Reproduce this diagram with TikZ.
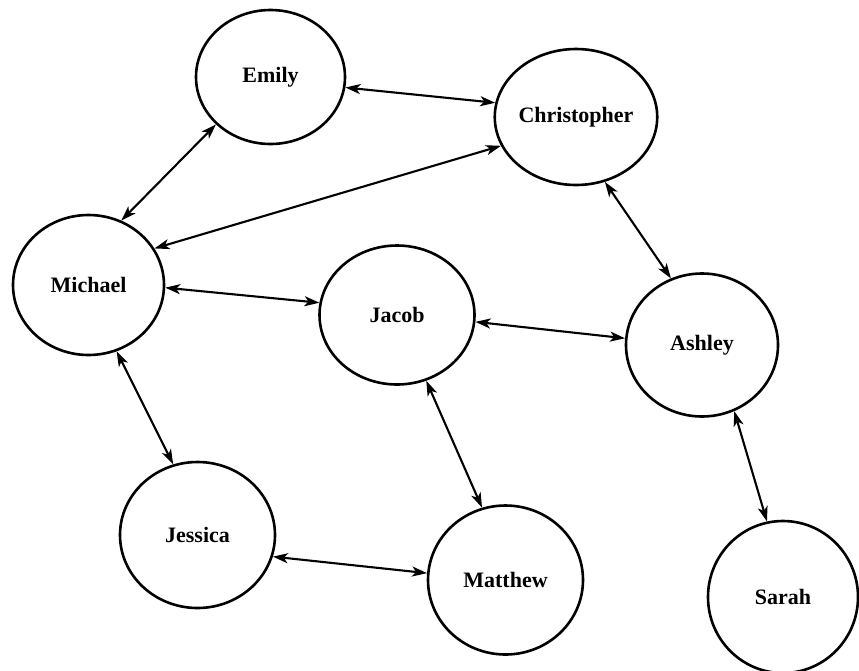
\documentclass[tikz,border=0pt]{standalone}
\usepackage{fontspec}
\setmainfont{Liberation Serif}
\usetikzlibrary{shapes.geometric,arrows.meta}
\begin{document}
\begin{tikzpicture}[x=1pt,y=-1pt,
  person/.style={ellipse,draw,line width=2.6pt,inner sep=0pt,
    font=\fontsize{22}{26}\selectfont\bfseries},
  link/.style={line width=2.1pt,
    {Stealth[length=15pt,width=10pt,inset=4pt]}-{Stealth[length=15pt,width=10pt,inset=4pt]}}]
\clip (0,0) rectangle (859,670);
\node[person,minimum width=149pt,minimum height=134pt] (emily) at (270.5,77) {Emily};
\node[person,minimum width=148pt,minimum height=136pt] (chris) at (576,117) {Christopher};
\node[person,minimum width=151pt,minimum height=140pt] (michael) at (88.5,285) {Michael};
\node[person,minimum width=155pt,minimum height=139pt] (jacob) at (397,315) {Jacob};
\node[person,minimum width=152pt,minimum height=143pt] (ashley) at (702,345) {Ashley};
\node[person,minimum width=155pt,minimum height=146pt] (jessica) at (197.5,535) {Jessica};
\node[person,minimum width=155pt,minimum height=149pt] (matthew) at (505.5,580) {Matthew};
\node[person,minimum width=150pt,minimum height=152pt] (sarah) at (783,597) {Sarah};

\draw[link] (emily.-8) -- (chris.170);
\draw[link] (michael.29) -- (chris.201);
\draw[link] (michael.63) -- (emily.221);
\draw[link] (michael.-2) -- (jacob.171);
\draw[link] (jacob.-5) -- (ashley.175);
\draw[link] (chris.-66) -- (ashley.115);
\draw[link] (ashley.-64) -- (sarah.102);
\draw[link] (michael.-67) -- (jessica.109);
\draw[link] (jacob.-66) -- (matthew.108);
\draw[link] (jessica.-16) -- (matthew.175);
\end{tikzpicture}
\end{document}
